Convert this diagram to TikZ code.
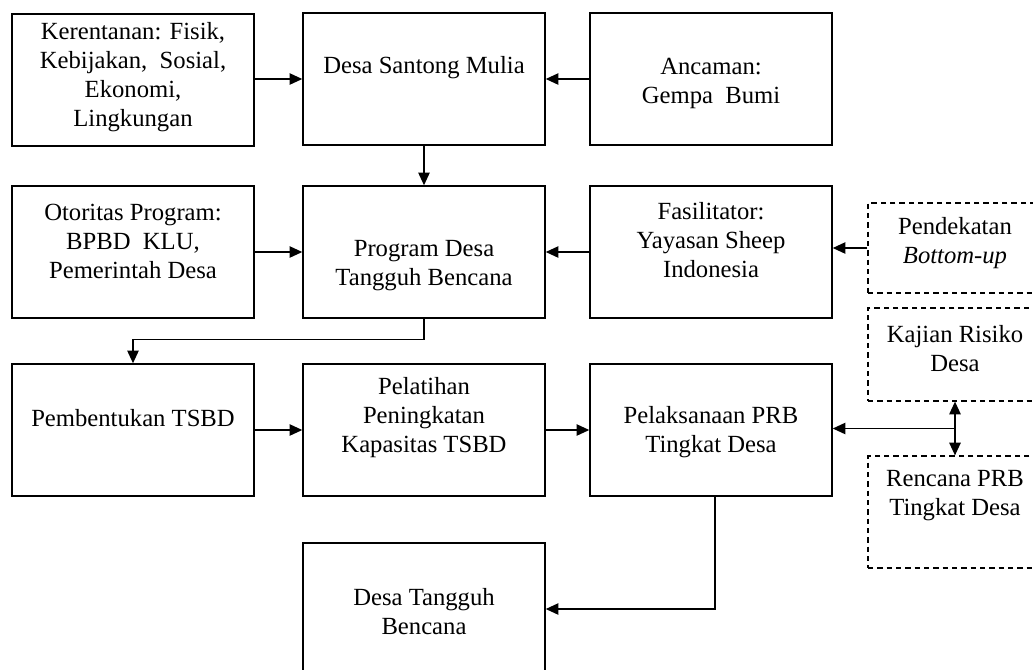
\documentclass[tikz,border=0pt]{standalone}
\usepackage{fontspec}
\setmainfont{Liberation Serif}
\usetikzlibrary{arrows.meta,calc}
\tikzset{
	kotak/.style={draw, line width=1.1pt, minimum width=181.5pt, minimum height=99pt, inner sep=0pt},
	kotakputus/.style={draw, line width=0.9pt, dash pattern=on 4pt off 3pt, minimum width=130.5pt, inner sep=0pt},
	teks/.style={align=center, inner sep=0pt, font=\fontsize{18.5}{21.75}\selectfont},
	panah/.style={line width=1.1pt, -{Triangle[length=9.5pt,width=8.5pt]}},
	panahdua/.style={line width=1.1pt, {Triangle[length=9.5pt,width=8.5pt]}-{Triangle[length=9.5pt,width=8.5pt]}}
}

\begin{document}
\begin{tikzpicture}[x=0.75pt, y=-0.75pt]
		%%%%% START %%%%%
		
		\useasboundingbox (0, 0) rectangle (1033, 669);
		\clip (0, 0) rectangle (1033, 669);
		
		\node[kotak] (ker) at (133, 80) {};
		\node[kotak] (desa) at (424, 79) {};
		\node[kotak] (anc) at (711, 79) {};
		
		\node[kotak] (oto) at (133, 252) {};
		\node[kotak] (prog) at (424, 252) {};
		\node[kotak] (fas) at (711, 252) {};
		
		\node[kotak] (pemb) at (133, 430) {};
		\node[kotak] (pelat) at (424, 430) {};
		\node[kotak] (pela) at (711, 430) {};
		
		\node[kotak] (dtb) at (424, 609) {};
		
		\node[kotakputus, minimum height=67.5pt] (pend) at (955, 248) {};
		\node[kotakputus, minimum height=69.75pt] (kaj) at (955, 354.5) {};
		\node[kotakputus, minimum height=84pt] (ren) at (955, 512) {};
		
		\node[teks] (ker-t) at (133, 77) {Kerentanan: Fisik,\\ Kebijakan,~ Sosial,\\ Ekonomi,\\ Lingkungan};
		\node[teks] (desa-t) at (424, 68) {Desa Santong Mulia};
		\node[teks] (anc-t) at (711, 83) {Ancaman:\\ Gempa~~Bumi};
		\node[teks] (oto-t) at (133, 241) {Otoritas Program:\\ BPBD~~KLU,\\ Pemerintah Desa};
		\node[teks] (prog-t) at (424, 266) {Program~Desa\\ Tangguh Bencana};
		\node[teks] (fas-t) at (711, 240) {Fasilitator:\\ Yayasan Sheep\\ Indonesia};
		\node[teks] (pend-t) at (955, 243) {Pendekatan\\ \textit{Bottom-up}};
		\node[teks] (kaj-t) at (955, 349) {Kajian Risiko\\ Desa};
		\node[teks] (ren-t) at (955, 496) {Rencana PRB\\ Tingkat Desa};
		\node[teks] (pemb-t) at (133, 418) {Pembentukan TSBD};
		\node[teks] (pelat-t) at (424, 418) {Pelatihan\\ Peningkatan\\ Kapasitas TSBD};
		\node[teks] (pela-t) at (711, 432) {Pelaksanaan PRB\\ Tingkat Desa};
		\node[teks] (dtb-t) at (424, 612) {Desa Tangguh\\ Bencana};
		
		\draw[panah] (ker.east |- desa.east) -- (desa.west);
		\draw[panah] (anc) -- (desa);
		\draw[panah] (desa) -- (prog);
		
		\draw[panah] (oto) -- (prog);
		\draw[panah] (fas) -- (prog);
		\draw[panah] (pend.west) -- (pend.west -| fas.east);
		
		\draw[panah] (prog.south) -- ++(0, 21) -| (pemb.north);
		\draw[panah] (pemb) -- (pelat);
		\draw[panah] (pelat) -- (pela);
		\draw[panah] ([xshift=3pt]pela.south) |- (dtb.east);
		
		\coordinate (tengah) at ($(kaj.south)!0.5!(ren.north)$);
		\draw[panahdua] (kaj.south) -- (ren.north);
		\draw[panah] (tengah) -- (tengah -| pela.east);
		
		%%%%% END %%%%%
	\end{tikzpicture}
\end{document}
